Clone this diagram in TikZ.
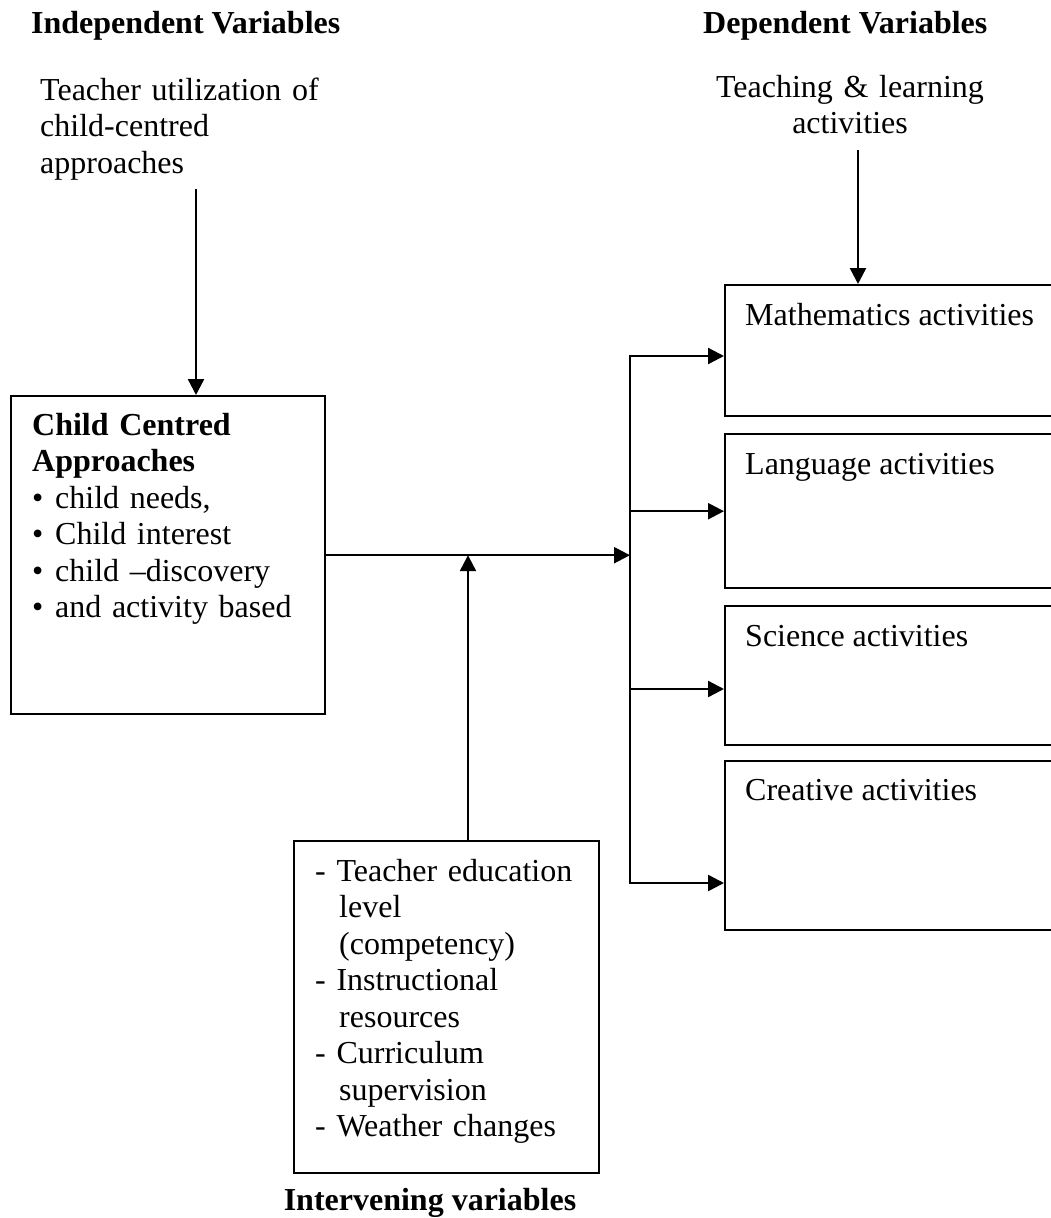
\documentclass[tikz,border=0pt]{standalone}
\usepackage{fontspec}
\setmainfont{Liberation Serif}
\usetikzlibrary{arrows.meta}

\begin{document}
\begin{tikzpicture}[x=1pt,y=-1pt,
        box/.style={draw,line width=2.4pt,anchor=north west,inner sep=0pt},
        txt/.style={font=\fontsize{32}{36.5}\selectfont,inner sep=0pt,align=left,anchor=base west},
        head/.style={txt,font=\fontsize{32}{36.5}\selectfont\bfseries},
        arr/.style={line width=2.4pt,-{Triangle[length=16pt,width=16pt]}},
        twoarr/.style={line width=2.4pt,{Triangle[length=16pt,width=16pt]}-{Triangle[length=16pt,width=16pt]}}]
        \clip (0,0) rectangle (1051,1218);
        \node[head] (indep) at (31,33) {Independent Variables};
        \node[head] (dep) at (703,33) {Dependent Variables};
        \node[txt,text width=300pt] (tuc) at (40,100) {Teacher utilization of\\child-centred\\approaches};
        \node[txt,text width=280pt,align=center,anchor=base] (tla) at (850,97) {Teaching \& learning\\activities};
        \node[box,minimum width=314pt,minimum height=318pt] (cca) at (10,395) {};
        \node[box,minimum width=400pt,minimum height=131pt] (math) at (724,284) {};
        \node[box,minimum width=400pt,minimum height=154pt] (lang) at (724,433) {};
        \node[box,minimum width=400pt,minimum height=139pt] (sci) at (724,605) {};
        \node[box,minimum width=400pt,minimum height=169pt] (crea) at (724,760) {};
        \node[box,minimum width=305pt,minimum height=332pt] (ivbox) at (293,840) {};
        \node[txt,text width=285pt] (ccatxt) at (32,435) {\textbf{Child Centred}\\\textbf{Approaches}\\
            \makebox[23pt][l]{\textbullet}child needs,\\\makebox[23pt][l]{\textbullet}Child interest\\
            \makebox[23pt][l]{\textbullet}child --discovery\\\makebox[23pt][l]{\textbullet}and activity based};
        \node[txt] (mathtxt) at (745,325) {Mathematics activities};
        \node[txt] (langtxt) at (745,474) {Language activities};
        \node[txt] (scitxt) at (745,646) {Science activities};
        \node[txt] (creatxt) at (745,800) {Creative activities};
        \node[txt,text width=280pt] (ivtxt) at (315,881) {- Teacher education\\\hspace*{24pt}level\\\hspace*{24pt}(competency)\\
            - Instructional\\\hspace*{24pt}resources\\- Curriculum\\\hspace*{24pt}supervision\\- Weather changes};
        \node[head,anchor=base] (interv) at (430,1210) {Intervening variables};
        \coordinate (tucarr) at (196,189);
        \coordinate (tlaarr) at (858,150);
        \coordinate (bustop) at (630,356);
        \coordinate (busbot) at (630,883);
        \coordinate (busc) at (630,689);
        \coordinate (ivarr) at (468,0);
        \draw[arr] (tucarr) -- (tucarr |- cca.north);
        \draw[arr] (tlaarr) -- (tlaarr |- math.north);
        \draw[arr] (cca.east) -- (cca.east -| bustop);
        \draw[arr] (ivarr |- ivbox.north) -- (ivarr |- cca.east);
        \draw[twoarr] (math.west |- bustop) -- (bustop) -- (busbot) -- (crea.west |- busbot);
        \draw[arr] (lang.west -| bustop) -- (lang.west);
        \draw[arr] (busc) -- (busc -| sci.west);
    \end{tikzpicture}
\end{document}
